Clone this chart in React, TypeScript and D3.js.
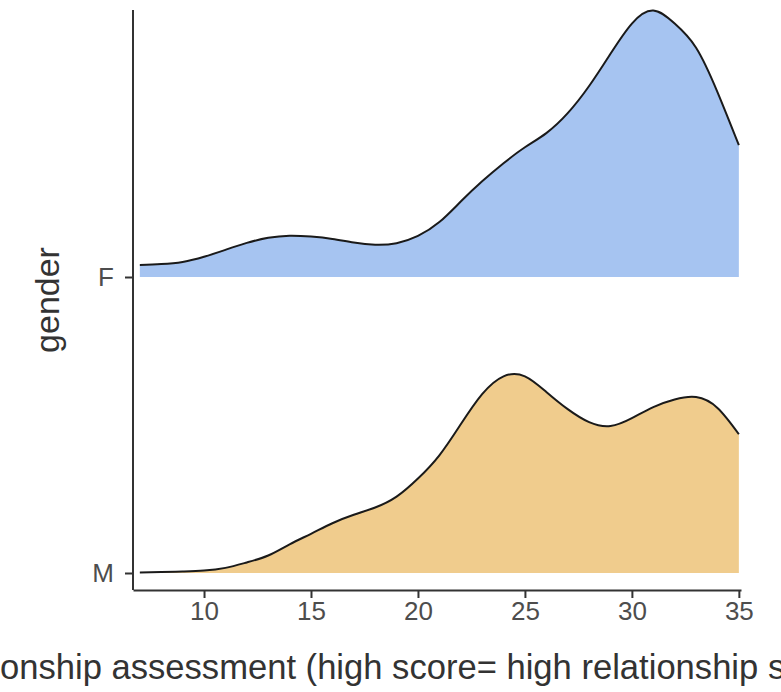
import { useCallback, useEffect, useRef } from "react";
import * as d3 from "d3";

// relationship assessment scores (x grid of the density estimate)
const scores = [
  7, 8, 9, 10, 11, 12, 13, 14, 15, 16, 17, 18, 19, 20, 21, 22, 23, 24, 25, 26,
  27, 28, 29, 30, 31, 32, 33, 34, 35,
];

// density estimates read off the ridges
const femaleDensity = [
  0.004, 0.0043, 0.005, 0.0067, 0.009, 0.0113, 0.013, 0.0137, 0.0134, 0.0126,
  0.0114, 0.0107, 0.0112, 0.0136, 0.0182, 0.025, 0.0317, 0.0377, 0.043, 0.0477,
  0.0543, 0.0633, 0.074, 0.084, 0.0883, 0.084, 0.076, 0.0613, 0.0437,
];

const maleDensity = [
  0.0002, 0.0003, 0.0005, 0.0008, 0.0017, 0.0035, 0.0058, 0.0095, 0.013, 0.0165,
  0.0193, 0.0217, 0.0253, 0.0313, 0.039, 0.0493, 0.0593, 0.0652, 0.0652, 0.06,
  0.0543, 0.05, 0.0487, 0.0513, 0.055, 0.0575, 0.0583, 0.0547, 0.046,
];

const genders = ["M", "F"];
const fills = { F: "#a6c4f1", M: "#f0cc8d" };
const xTicks = [10, 15, 20, 25, 30, 35];

const xTitle =
  "Relationship assessment (high score= high relationship satisfaction)";
const yTitle = "gender";

const width = 781;
const height = 692;

const RidgeChart = () => {
  const svgRef = useRef(null);

  const renderGraph = useCallback((svgEl) => {
    const svg = d3.select(svgEl);
    svg.selectAll("*").remove();

    const panel = { left: 133, right: 741, top: 10, bottom: 590 };
    const font = "'Liberation Sans', Arial, sans-serif";

    const x = d3
      .scaleLinear()
      .domain([6.68, 35.1])
      .range([panel.left, panel.right]);

    const y = d3.scalePoint().domain(genders).range([573, 277]);

    const series = [
      { key: "F", values: femaleDensity },
      { key: "M", values: maleDensity },
    ];

    const maxDensity = d3.max(series, (s) => d3.max(s.values));
    const h = d3
      .scaleLinear()
      .domain([0, maxDensity])
      .range([0, 0.9 * y.step()]);

    const curve = d3.curveNatural;
    const ridges = svg.append("g");

    series.forEach((s) => {
      const pts = scores.map((v, i) => ({ v, d: s.values[i] }));
      const base = y(s.key);

      const area = d3
        .area()
        .x((p) => x(p.v))
        .y0(base)
        .y1((p) => Math.min(base, base - h(p.d)))
        .curve(curve);

      const line = d3
        .line()
        .x((p) => x(p.v))
        .y((p) => base - h(p.d))
        .curve(curve);

      ridges
        .append("path")
        .datum(pts)
        .attr("d", area)
        .attr("fill", fills[s.key]);

      ridges
        .append("path")
        .datum(pts)
        .attr("d", line)
        .attr("fill", "none")
        .attr("stroke", "#1a1a1a")
        .attr("stroke-width", 2);
    });

    // x axis
    const xAxis = svg
      .append("g")
      .attr("transform", `translate(0,${panel.bottom})`)
      .call(
        d3
          .axisBottom(x)
          .tickValues(xTicks)
          .tickSizeInner(8)
          .tickSizeOuter(0)
          .tickPadding(4)
      );
    xAxis
      .select(".domain")
      .attr("stroke", "#333")
      .attr("stroke-width", 2);
    xAxis.selectAll(".tick line").attr("stroke", "#333").attr("stroke-width", 2);
    xAxis
      .selectAll(".tick text")
      .attr("fill", "#4d4d4d")
      .attr("font-size", 26)
      .attr("font-family", font);

    // y axis
    const yAxis = svg
      .append("g")
      .attr("transform", `translate(${panel.left},0)`)
      .call(d3.axisLeft(y).tickSizeInner(8).tickSizeOuter(0).tickPadding(11));
    yAxis
      .select(".domain")
      .attr("d", `M0,${panel.top}V${panel.bottom}`)
      .attr("stroke", "#333")
      .attr("stroke-width", 2);
    yAxis.selectAll(".tick line").attr("stroke", "#333").attr("stroke-width", 2);
    yAxis
      .selectAll(".tick text")
      .attr("fill", "#4d4d4d")
      .attr("font-size", 26)
      .attr("font-family", font);

    // titles
    svg
      .append("text")
      .attr("x", (panel.left + panel.right) / 2 - 5)
      .attr("y", 679)
      .attr("text-anchor", "middle")
      .attr("fill", "#333")
      .attr("font-size", 34.6)
      .attr("font-family", font)
      .text(xTitle);

    svg
      .append("text")
      .attr(
        "transform",
        `translate(59,${(panel.top + panel.bottom) / 2}) rotate(-90)`
      )
      .attr("text-anchor", "middle")
      .attr("fill", "#333")
      .attr("font-size", 34)
      .attr("font-family", font)
      .text(yTitle);
  }, []);

  useEffect(() => {
    renderGraph(svgRef.current);
  }, [renderGraph]);

  return (
    <svg
      ref={svgRef}
      width={width}
      height={height}
      style={{ position: "absolute", left: 0, top: 0, background: "#fff" }}
    />
  );
};

export default function App() {
  return <RidgeChart />;
}
